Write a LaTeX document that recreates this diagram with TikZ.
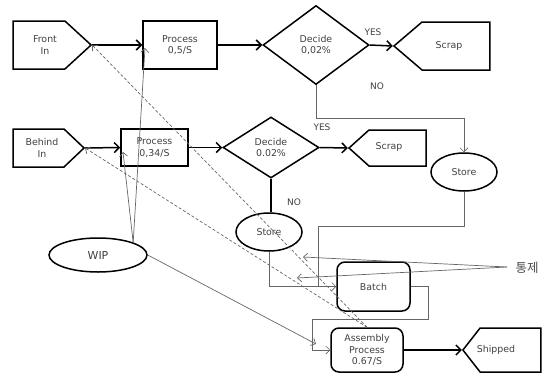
\documentclass[tikz,border=0pt]{standalone}
\usepackage{fontspec}
\setmainfont{DejaVu Sans}
\newfontfamily\krfont{Noto Sans CJK KR}
\usetikzlibrary{shapes.geometric,shapes.symbols,arrows.meta}
\begin{document}
\begin{tikzpicture}[x=1pt,y=-1pt,
  every node/.style={font=\fontsize{9.4}{11.5}\selectfont, text=black!75, align=center, inner sep=0pt},
  box/.style={draw=black, line width=1.5pt, rectangle},
  rbox/.style={draw=black, line width=1.5pt, rectangle, rounded corners=8pt},
  pent/.style={draw=black, line width=1.5pt, signal},
  dia/.style={draw=black, line width=1.5pt, diamond},
  ell/.style={draw=black, line width=1.5pt, ellipse},
  thk/.style={line width=1.5pt, -{Straight Barb[length=5pt,width=10pt]}},
  thkline/.style={line width=1.5pt},
  thn/.style={draw=black!60, line width=0.7pt},
  thnarr/.style={thn, -{Straight Barb[length=4pt,width=8pt]}},
  dsh/.style={draw=black!60, line width=0.7pt, dash pattern=on 3pt off 2pt, -{Straight Barb[length=4pt,width=8pt]}},
  lbl/.style={font=\fontsize{9}{11}\selectfont}
]
\useasboundingbox (0,0) rectangle (546,375);

% row 1
\node[pent, signal to=east, signal pointer angle=85, minimum width=78pt, minimum height=48pt] (fi) at (39,45) {};
\node (fit) at (45,45) {Front\\In};
\node[box, minimum width=74pt, minimum height=48pt] (p1) at (180,45) {Process\\0,5/S};
\node[dia, minimum width=106pt, minimum height=79pt] (d1) at (316,45) {Decide\\0,02\%};
\node[pent, signal to=west, signal pointer angle=81, minimum width=96pt, minimum height=48pt] (s1) at (456,46) {};
\node (s1t) at (449,46) {Scrap};

% row 2
\node[pent, signal to=east, signal pointer angle=87, minimum width=71pt, minimum height=38pt] (bi) at (38.5,148) {};
\node (bit) at (42,148) {Behind\\In};
\node[box, minimum width=67pt, minimum height=37pt] (p2) at (154.5,147.5) {Process\\0,34/S};
\node[dia, minimum width=96pt, minimum height=61pt] (d2) at (271,147.5) {Decide\\0.02\%};
\node[pent, signal to=west, signal pointer angle=84, minimum width=77pt, minimum height=36pt] (s2) at (397.5,148) {};
\node (s2t) at (389,147) {Scrap};

% stores, WIP
\node[ell, minimum width=66pt, minimum height=38pt] (st1) at (269,232) {Store};
\node[ell, minimum width=66pt, minimum height=38pt] (st2) at (464,172) {Store};
\node[ell, minimum width=98pt, minimum height=34pt, font=\fontsize{11}{13}\selectfont] (wip) at (98,255) {WIP};

% batch, assembly, shipped
\node[rbox, minimum width=73pt, minimum height=49pt] (batch) at (373.5,286.5) {Batch};
\node[rbox, minimum width=72pt, minimum height=44pt] (asm) at (367,350) {Assembly\\Process\\0.67/S};
\node[pent, signal to=west, signal pointer angle=104, minimum width=78pt, minimum height=44pt] (sh) at (510.5,350) {};
\node (sht) at (496,350) {Shipped};

% labels
\node[lbl] (yes1) at (373,32) {YES};
\node[lbl] (no1) at (377,86) {NO};
\node[lbl] (yes2) at (322,127) {YES};
\node[lbl] (no2) at (294,202) {NO};
\node[font=\krfont\fontsize{12.5}{14}\selectfont, text=black!70] (tj) at (527,268) {통제};

% coordinates
\coordinate (a1) at (145,48);
\coordinate (a2) at (123,152);
\coordinate (a3) at (316,344);
\coordinate (b1) at (303,257);
\coordinate (b2) at (297,278);
\coordinate (tjo) at (507,267);

% main flow
\draw[thk] (fi.east) -- (p1.west);
\draw[thk] (p1.east) -- (d1.west);
\draw[thk] (d1.east) -- (s1.west);
\draw[thk] (bi.east) -- (p2.west);
\draw[thk] (p2.east) -- (d2.west);
\draw[thk] (d2.east) -- (s2.west);
\draw[thkline] (d2.south) -- (d2.south |- st1.north);
\draw[thk] (asm.east) -- (sh.west);

% thin routing
\draw[thnarr] (d1.south) -- (316,118) -| (st2.north);
\draw[thnarr] (st1.south) |- (batch.west);
\draw[thn] (st2.south) |- (318,226) -- (318,287);
\draw[thnarr] (batch.east) -- (428,286.5) |- (312,319) |- (asm.west);

% WIP lines
\draw[thnarr] (wip.north east) -- (a1);
\draw[thnarr] (wip.north east) -- (a2);
\draw[thnarr] (wip.east) -- (a3);

% dashed
\draw[dsh] (asm.north) -- (fi.east);
\draw[dsh] (asm.north) -- (bi.east);

% control
\draw[thnarr] (tjo) -- (b1);
\draw[thnarr] (tjo) -- (b2);
\end{tikzpicture}
\end{document}
